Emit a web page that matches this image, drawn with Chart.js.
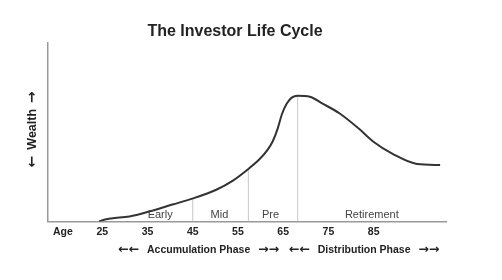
<!DOCTYPE html>
<html>
<head>
<meta charset="utf-8">
<script src="https://cdn.jsdelivr.net/npm/chart.js@4/dist/chart.umd.min.js"></script>
<style>
  html, body { margin: 0; padding: 0; background: #fff; }
  canvas { display: block; }
</style>
</head>
<body>
<canvas id="lifeCycleChart" width="502" height="280"></canvas>
<script>
// wealth curve (age -> relative wealth)
const ages = [24.3, 25.2, 27.0, 31.0, 35.4, 40.5, 44.9, 50.2, 53.8, 57.3, 59.8, 61.5, 62.7, 63.8, 64.7, 65.8, 66.9, 68.2, 70.9, 73.7, 77.5, 81.9, 84.8, 89.3, 94.6, 99.7];
const wealth = [0, 1.5, 3, 5, 10, 17, 23, 32, 41, 53, 63, 72, 81, 94, 108, 119, 125, 127, 126, 119, 109, 93, 81, 68, 58, 57];

// x axis tick labels ("Age" sits in front of the numbers)
const tickValues = [16.3, 25, 35, 45, 55, 65, 75, 85];
const tickLabels = ['Age', '25', '35', '45', '55', '65', '75', '85'];

// stage dividers: age where the line drops, and the curve height there
const dividerAges = [45, 57.3, 68.2];
const dividerTops = [23, 53, 127];

// stage names inside the plot
const stageNames = ['Early', 'Mid', 'Pre', 'Retirement'];
const stageAges = [37.8, 50.9, 62.2, 84.6];
const stageLevel = 6;

// phases under the axis
const phaseNames = ['\u2190\u2190 Accumulation Phase \u2192\u2192', '\u2190\u2190 Distribution Phase \u2192\u2192'];
const phaseAges = [46.3, 82.9];
const yTitle = '\u2190 Wealth \u2192';

const FONT = "'Liberation Sans', Arial, sans-serif";
const ARROW_FONT = "'DejaVu Sans', sans-serif";

const datasets = [{
    label: 'Wealth',
    data: ages.map((a, i) => ({ x: a, y: wealth[i] })),
    borderColor: '#333',
    borderWidth: 2,
    pointRadius: 0,
    cubicInterpolationMode: 'monotone',
    fill: false
}];

dividerAges.forEach((a, i) => {
    datasets.push({
        label: 'divider' + i,
        data: [{ x: a, y: 0 }, { x: a, y: dividerTops[i] }],
        borderColor: '#c8c8c8',
        borderWidth: 1,
        pointRadius: 0,
        fill: false
    });
});

// draw text centred on (0,0); arrows in a font that has proper arrows
function mixedText(ctx, str, size, arrowSize, gap) {
    const runs = str.match(/[\u2190\u2192]+|[^\u2190\u2192]+/g).map(r => r.trim()).filter(r => r);
    const fontFor = r => /[\u2190\u2192]/.test(r) ? 'bold ' + arrowSize + 'px ' + ARROW_FONT : 'bold ' + size + 'px ' + FONT;
    let total = gap * (runs.length - 1);
    const widths = runs.map(r => { ctx.font = fontFor(r); const w = ctx.measureText(r).width; total += w; return w; });
    let x = -total / 2;
    ctx.textAlign = 'left';
    ctx.textBaseline = 'middle';
    runs.forEach((r, i) => {
        ctx.font = fontFor(r);
        ctx.fillText(r, x, /[\u2190\u2192]/.test(r) ? 0 : 0.5);
        x += widths[i] + gap;
    });
}

const textPlugin = {
    id: 'stageText',
    afterDatasetsDraw(chart) {
        const ctx = chart.ctx;
        const xs = chart.scales.x;
        const ys = chart.scales.y;
        const area = chart.chartArea;
        ctx.save();
        ctx.fillStyle = '#444';
        ctx.textAlign = 'center';
        ctx.textBaseline = 'middle';
        ctx.font = '11px ' + FONT;
        stageNames.forEach((name, i) => {
            ctx.fillText(name, xs.getPixelForValue(stageAges[i]), ys.getPixelForValue(stageLevel));
        });
        ctx.fillStyle = '#222';
        phaseNames.forEach((name, i) => {
            ctx.save();
            ctx.translate(xs.getPixelForValue(phaseAges[i]), area.bottom + 28);
            mixedText(ctx, name, 10.5, 12.5, 8);
            ctx.restore();
        });
        ctx.save();
        ctx.translate(area.left - 16, (area.top + area.bottom) / 2 - 3);
        ctx.rotate(-Math.PI / 2);
        mixedText(ctx, yTitle, 12.5, 14, 6);
        ctx.restore();
        ctx.restore();
    }
};

const chart = new Chart(document.getElementById('lifeCycleChart').getContext('2d'), {
    type: 'line',
    data: { datasets: datasets },
    plugins: [textPlugin],
    options: {
        responsive: false,
        animation: false,
        layout: { padding: { left: 24, right: 56, top: 0, bottom: 38 } },
        plugins: {
            legend: { display: false },
            tooltip: { enabled: false },
            title: {
                display: true,
                text: 'The Investor Life Cycle',
                color: '#222',
                font: { family: FONT, size: 16, weight: 'bold' },
                padding: { top: 22, bottom: 2 }
            }
        },
        scales: {
            x: {
                type: 'linear',
                min: 13,
                max: 101,
                border: { display: true, color: '#999', width: 1.5 },
                grid: { display: false, drawTicks: false },
                afterBuildTicks(scale) {
                    scale.ticks = tickValues.map(v => ({ value: v }));
                },
                ticks: {
                    autoSkip: false,
                    maxRotation: 0,
                    padding: 4,
                    color: '#222',
                    font: { family: FONT, size: 10.5, weight: 'bold' },
                    callback: (value, index) => tickLabels[index]
                }
            },
            y: {
                min: 0,
                max: 180,
                border: { display: true, color: '#999', width: 1.5 },
                grid: { display: false, drawTicks: false },
                ticks: { display: false },
                afterFit(scale) {
                    scale.width = 24;
                }
            }
        }
    }
});
</script>
</body>
</html>
